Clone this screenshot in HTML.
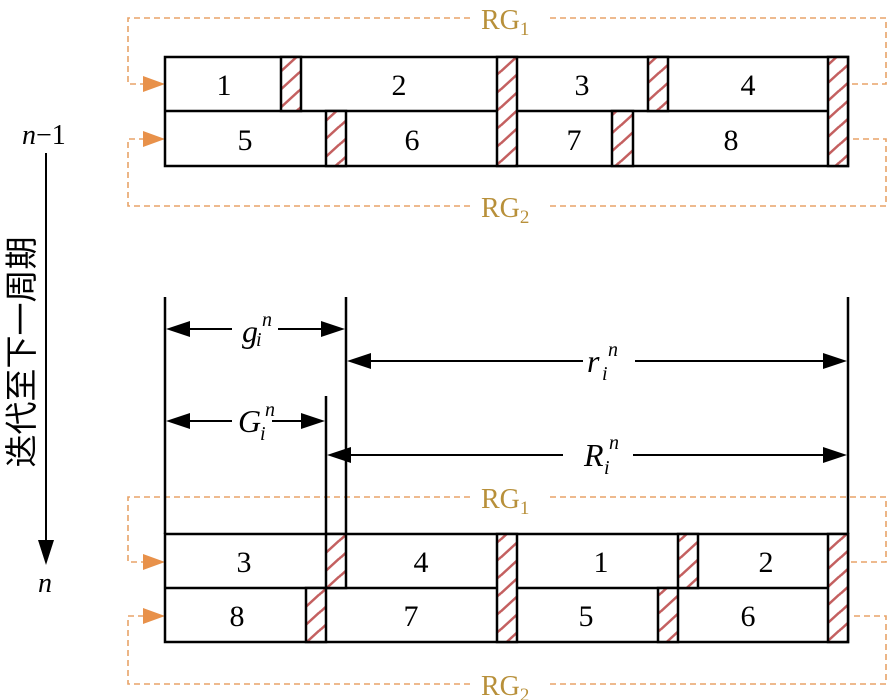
<!DOCTYPE html>
<html><head><meta charset="utf-8"><style>body{margin:0;background:#fff}svg{display:block}</style></head><body>
<svg width="895" height="700" viewBox="0 0 895 700" xmlns="http://www.w3.org/2000/svg" font-family="'Liberation Serif',serif">
<defs>
<pattern id="h" width="20" height="18" patternUnits="userSpaceOnUse">
<rect width="20" height="18" fill="#fff"/>
<path d="M-2 20 L22 -2 M-2 2 L2 -2 M18 20 L22 16" stroke="#c46060" stroke-width="2.5"/>
</pattern>
</defs>
<g fill="none" stroke="#e8a368" stroke-width="1.6" stroke-dasharray="6,4">
<path d="M470 18 H128 V84 H150"/><path d="M550 18 H886 V84 H850"/>
<path d="M470 206 H128 V139 H150"/><path d="M550 206 H886 V139 H850"/>
<path d="M470 497 H128 V562 H150"/><path d="M550 497 H886 V562 H850"/>
<path d="M470 684 H128 V616 H150"/><path d="M550 684 H886 V616 H850"/>
</g>
<g fill="#e8914a">
<path d="M143 76 L165 84 L143 92z"/><path d="M143 131 L165 139 L143 147z"/>
<path d="M143 554 L165 562 L143 570z"/><path d="M143 608 L165 616 L143 624z"/>
</g>
<g fill="#b8903a" font-size="28">
<text x="481" y="29">RG<tspan font-size="19" dy="6">1</tspan></text>
<text x="481" y="217">RG<tspan font-size="19" dy="6">2</tspan></text>
<text x="481" y="508">RG<tspan font-size="19" dy="6">1</tspan></text>
<text x="481" y="695">RG<tspan font-size="19" dy="6">2</tspan></text>
</g>
<g stroke="#000" stroke-width="2.5">
<rect x="165" y="57" width="683" height="109" fill="#fff"/>
<line x1="165" y1="111" x2="848" y2="111"/>
<rect x="281" y="57" width="20" height="54" fill="url(#h)"/>
<rect x="497" y="57" width="20" height="109" fill="url(#h)"/>
<rect x="648" y="57" width="20" height="54" fill="url(#h)"/>
<rect x="828" y="57" width="20" height="109" fill="url(#h)"/>
<rect x="326" y="111" width="20" height="55" fill="url(#h)"/>
<rect x="612" y="111" width="21" height="55" fill="url(#h)"/>
<rect x="165" y="534" width="683" height="108" fill="#fff"/>
<line x1="165" y1="588" x2="848" y2="588"/>
<rect x="326" y="534" width="20" height="54" fill="url(#h)"/>
<rect x="497" y="534" width="20" height="108" fill="url(#h)"/>
<rect x="678" y="534" width="20" height="54" fill="url(#h)"/>
<rect x="828" y="534" width="20" height="108" fill="url(#h)"/>
<rect x="306" y="588" width="20" height="54" fill="url(#h)"/>
<rect x="658" y="588" width="20" height="54" fill="url(#h)"/>
<line x1="165" y1="297" x2="165" y2="534"/>
<line x1="346" y1="297" x2="346" y2="534"/>
<line x1="848" y1="297" x2="848" y2="534"/>
<line x1="326" y1="396" x2="326" y2="534"/>
</g>
<g stroke="#000" stroke-width="2">
<line x1="185" y1="329" x2="232" y2="329"/><line x1="278" y1="329" x2="326" y2="329"/>
<line x1="366" y1="361" x2="583" y2="361"/><line x1="635" y1="361" x2="828" y2="361"/>
<line x1="185" y1="421" x2="232" y2="421"/><line x1="272" y1="421" x2="306" y2="421"/>
<line x1="346" y1="455" x2="563" y2="455"/><line x1="633" y1="455" x2="828" y2="455"/>
<line x1="46" y1="153" x2="46" y2="545"/>
</g>
<g fill="#000">
<path d="M166 329 L190 321 L190 337z"/><path d="M345 329 L321 321 L321 337z"/>
<path d="M347 361 L371 353 L371 369z"/><path d="M847 361 L823 353 L823 369z"/>
<path d="M166 421 L190 413 L190 429z"/><path d="M325 421 L301 413 L301 429z"/>
<path d="M327 455 L351 447 L351 463z"/><path d="M847 455 L823 447 L823 463z"/>
<path d="M38 540 L54 540 L46 565z"/>
</g>
<g font-size="30" text-anchor="middle" fill="#000">
<text x="224" y="95">1</text><text x="399" y="95">2</text><text x="582" y="95">3</text><text x="748" y="95">4</text>
<text x="245" y="150">5</text><text x="412" y="150">6</text><text x="574" y="150">7</text><text x="731" y="150">8</text>
<text x="244" y="572">3</text><text x="421" y="572">4</text><text x="601" y="572">1</text><text x="766" y="572">2</text>
<text x="237" y="626">8</text><text x="411" y="626">7</text><text x="586" y="626">5</text><text x="748" y="626">6</text>
</g>
<g font-size="32" font-style="italic" fill="#000">
<text x="242" y="342">g</text><text x="256" y="346" font-size="20">i</text><text x="262" y="326" font-size="20">n</text>
<text x="587" y="372">r</text><text x="602" y="380" font-size="20">i</text><text x="608" y="356" font-size="20">n</text>
<text x="238" y="432">G</text><text x="260" y="440" font-size="20">i</text><text x="265" y="416" font-size="20">n</text>
<text x="584" y="466">R</text><text x="604" y="474" font-size="20">i</text><text x="609" y="449" font-size="20">n</text>
<text x="22" y="144" font-size="28">n<tspan font-style="normal">−1</tspan></text>
<text x="38" y="592" font-size="28">n</text>
</g>
<text transform="translate(33,352) rotate(-90)" text-anchor="middle" font-size="33" font-family="'Liberation Sans','Noto Sans CJK SC',sans-serif" fill="#000">迭代至下一周期</text>
</svg>
</body></html>
